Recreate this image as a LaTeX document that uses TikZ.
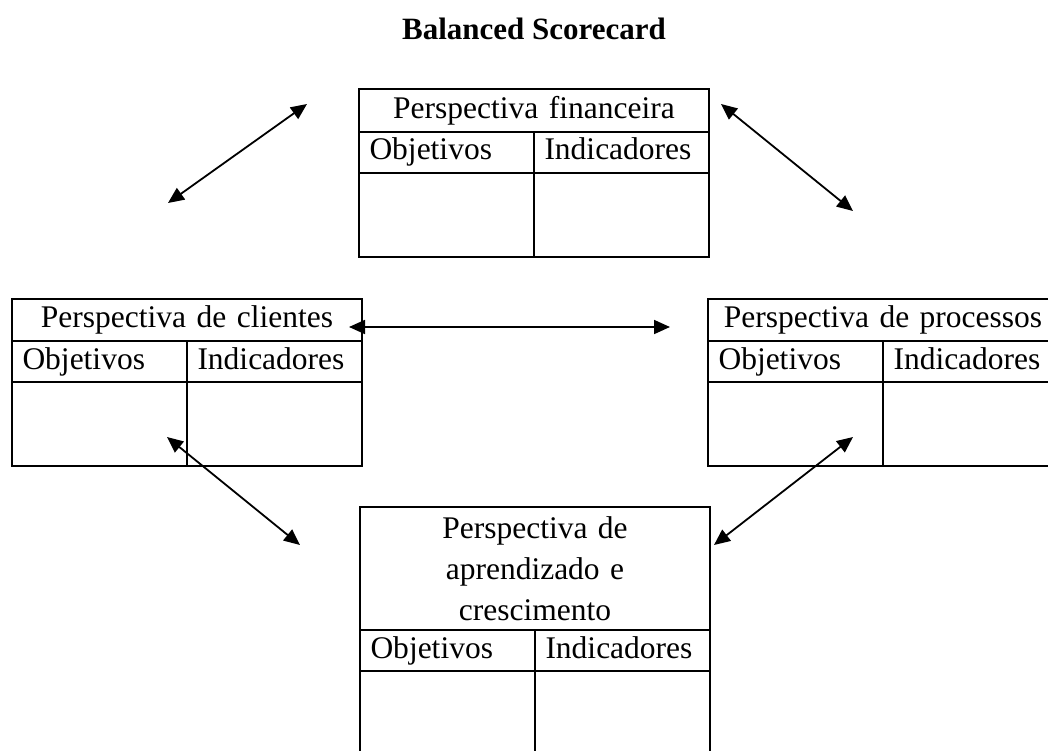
\documentclass[tikz,border=0pt]{standalone}
\usepackage{fontspec}
\setmainfont{Liberation Serif}
\usetikzlibrary{arrows.meta}
\tikzset{
  cellfont/.style={font=\fontsize{31.5}{41}\selectfont},
  titlecell/.style={draw, line width=2pt, outer sep=0pt, cellfont, inner sep=0pt, align=center, text width=330pt, minimum width=350pt},
  headcell/.style={draw, line width=2pt, outer sep=0pt, cellfont, inner xsep=10.5pt, inner ysep=0pt, text width=154pt, align=left, minimum height=41pt, text height=22pt, text depth=7pt},
  bodycell/.style={draw, line width=2pt, outer sep=0pt, inner sep=0pt, minimum width=175pt, minimum height=84pt},
  biarrow/.style={line width=1.8pt, {Triangle[length=16pt,width=14pt]}-{Triangle[length=16pt,width=14pt]}},
}
\newcommand\bscard[5]{%
  \node[titlecell, minimum height=#4, anchor=north west] (#1t) at (#2,#3) {#5};
  \node[headcell, anchor=north west] (#1oh) at (#1t.south west) {Objetivos};
  \node[headcell, anchor=north west] (#1ih) at (#1oh.north east) {Indicadores};
  \node[bodycell, anchor=north west] (#1ob) at (#1oh.south west) {};
  \node[bodycell, anchor=north west] (#1ib) at (#1ob.north east) {};
}
\begin{document}
\begin{tikzpicture}[x=1pt, y=-1pt]
\useasboundingbox (0,0) rectangle (1048,751);
\clip (0,0) rectangle (1048,751);
\node[font=\fontsize{31}{36}\selectfont\bfseries] (title) at (534,29) {Balanced Scorecard};
\bscard{fin}{359}{89}{43pt}{Perspectiva financeira}
\bscard{cli}{12}{299}{42pt}{Perspectiva de clientes}
\bscard{pro}{708}{299}{42pt}{Perspectiva de processos}
\bscard{apr}{360}{507}{123pt}{Perspectiva de\\aprendizado e\\crescimento}
\coordinate (c1a) at (168,203);
\coordinate (c1b) at (307,104);
\coordinate (c2a) at (721,104);
\coordinate (c2b) at (853,211);
\coordinate (c3a) at (349,327);
\coordinate (c3b) at (670,327);
\coordinate (c4a) at (167,437);
\coordinate (c4b) at (300,545);
\coordinate (c5a) at (853,437);
\coordinate (c5b) at (714,545);
\draw[biarrow] (c1a) -- (c1b);
\draw[biarrow] (c2a) -- (c2b);
\draw[biarrow] (c3a) -- (c3b);
\draw[biarrow] (c4a) -- (c4b);
\draw[biarrow] (c5a) -- (c5b);
\end{tikzpicture}
\end{document}
